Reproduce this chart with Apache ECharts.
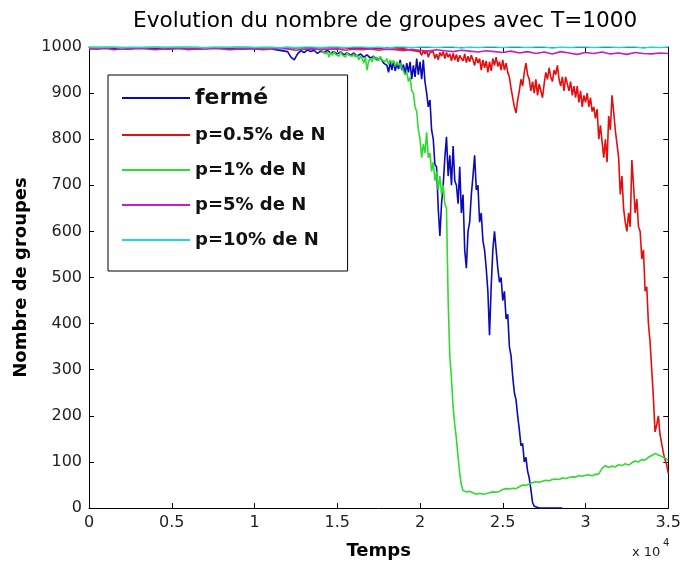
<!DOCTYPE html>
<html>
<head>
<meta charset="utf-8">
<script src="https://cdn.jsdelivr.net/npm/echarts@6/dist/echarts.min.js"></script>
<style>html,body{margin:0;padding:0;background:#fff}#c{width:684px;height:565px}</style>
</head>
<body>
<div id="c"></div>
<script>
// ---- Data ----
const titre = 'Evolution du nombre de groupes avec T=1000';
const nomsSeries = ['fermé', 'p=0.5% de N', 'p=1% de N', 'p=5% de N', 'p=10% de N'];
const ticksX = [0, 5000, 10000, 15000, 20000, 25000, 30000, 35000];
const ticksY = [0, 100, 200, 300, 400, 500, 600, 700, 800, 900, 1000];

// Each series is stored as segments: start time, sampling step, values.
// fermé
const fermeA = [999,998,997,999,996,998,999,997,998,995,997,996];           // t = 0 .. 11000, step 1000
const fermeB = [                                                              // t = 12000 .. 17800, step 200
  990,978,972,985,992,988,994,990,993,986,
  991,988,993,987,990,985,990,983,988,982,
  987,980,985,978,983,976,980,972,977,965
];
const fermeC = [                                                              // t = 18000 .. 27000, step 100
  960,945,968,950,970,948,965,952,972,950,
  962,940,965,945,968,930,960,935,975,940,
  968,930,972,925,900,870,885,820,800,745,
  740,650,590,660,700,760,805,720,765,700,
  785,710,700,660,740,640,680,560,520,600,
  620,680,720,765,690,700,620,640,580,560,
  520,470,375,480,560,600,560,520,490,500,
  450,470,410,420,350,330,285,250,235,200,
  170,135,140,100,110,80,65,40,12,4,
  0
];
const fermeD = [0,0,0,0,0,0,0,0];                                             // t = 27200 .. 28600, step 200

// p=0.5% de N
const p05A = [999,998,999,997,999,998,996,999,998,999,998,997,999,996,998,999,997,998,995,996]; // t = 0 .. 19000, step 1000
const p05B = [                                                                // t = 20000 .. 35000, step 100
  990,982,992,985,993,978,988,984,990,975,
  985,972,988,980,990,975,988,978,985,970,
  986,972,984,968,982,975,970,985,966,980,
  968,982,972,960,978,965,975,950,972,955,
  970,945,968,948,975,960,978,958,968,950,
  972,950,965,945,935,910,890,870,857,885,
  905,930,915,945,965,940,930,905,925,900,
  930,895,920,905,890,920,945,930,955,935,
  925,950,940,960,930,915,935,905,935,920,
  905,925,895,915,890,915,880,905,870,895,
  880,900,870,890,860,870,845,865,800,830,
  830,760,800,750,850,820,895,860,820,790,
  760,680,720,650,620,600,640,610,755,700,
  640,670,610,600,540,560,470,480,400,360,
  300,240,165,180,200,160,140,120,105,95,
  75
];

// p=1% de N
const p1A = [999,1000,999,998,1000,999,1000,998,999,1000,999,998,999,997];  // t = 0 .. 13000, step 1000
const p1B = [                                                                 // t = 14000 .. 22600, step 100
  996,990,994,985,990,978,988,982,990,984,
  988,980,990,983,987,978,988,982,986,980,
  985,978,983,972,980,975,965,978,950,970,
  975,968,980,972,978,970,980,972,976,968,
  975,962,972,965,970,958,968,960,965,955,
  955,940,945,925,935,905,900,870,860,820,
  800,760,790,770,815,760,770,730,750,710,
  730,690,720,680,700,660,650,450,330,280,
  220,180,150,110,75,50,38
];
const p1C = [                                                                 // t = 22800 .. 35000, step 200
  35,36,33,30,32,30,31,33,35,34,
  36,40,42,41,43,42,46,50,49,52,
  55,57,56,58,60,59,62,63,62,65,
  64,66,68,67,70,69,71,72,70,73,
  74,86,92,88,91,89,94,92,96,93,
  98,102,100,105,104,110,114,118,115,112,
  108,104
];

// p=5% de N, t = 0 .. 35000, step 500
const p5A = [
  996,995,997,994,996,995,997,996,994,996,
  995,997,994,996,995,997,996,994,995,997,
  996,994,995,997,996,993,995,996,994,995,
  996,993,995,994,996,993,995,994,992,995,
  993,991,994,992,990,993,991,989,992,990,
  988,991,987,990,986,989,985,990,987,984,
  988,986,989,985,987,984,988,986,985,987,
  986
];

// p=10% de N, t = 0 .. 35000, step 500
const p10A = [
  1000,999,1000,1000,998,1000,999,1000,1000,999,
  1000,1000,999,1000,998,1000,1000,999,1000,1000,
  999,1000,1000,998,1000,999,1000,1000,999,1000,
  1000,999,1000,1000,999,1000,998,1000,1000,999,
  1000,1000,999,1000,1000,998,1000,999,1000,1000,
  999,1000,1000,999,1000,1000,998,1000,999,1000,
  1000,999,1000,1000,999,1000,1000,998,1000,999,
  1000
];

const segments = [
  [[0, 1000, fermeA], [12000, 200, fermeB], [18000, 100, fermeC], [27200, 200, fermeD]],
  [[0, 1000, p05A], [20000, 100, p05B]],
  [[0, 1000, p1A], [14000, 100, p1B], [22800, 200, p1C]],
  [[0, 500, p5A]],
  [[0, 500, p10A]]
];

// ---- Chart ----
const couleurs = ['#0a0ab8', '#e80c0c', '#2edc2e', '#c020c8', '#22d4dc'];
const toPoints = segs => segs.reduce((acc, [t0, pas, vals]) =>
  acc.concat(vals.map((v, i) => [t0 + i * pas, v])), []);
const seriesData = segments.map(toPoints);

const FONT = 'DejaVu Sans';
const chart = echarts.init(document.getElementById('c'), null, {renderer: 'canvas'});

const axisCommon = {
  axisLine: {show: true, onZero: false, lineStyle: {color: '#000', width: 1}},
  axisTick: {show: true, inside: true, length: 5, lineStyle: {color: '#000'}},
  splitLine: {show: false}
};

chart.setOption({
  animation: false,
  backgroundColor: '#fff',
  title: {
    text: titre, left: 128, top: 5,
    textStyle: {fontFamily: FONT, fontSize: 21.6, fontWeight: 'normal', color: '#000'}
  },
  grid: {left: 89, right: 7, top: 47, bottom: 57, containLabel: false},
  legend: {
    orient: 'vertical', left: 108, top: 75,
    padding: [12, 22, 22, 14], itemGap: 17,
    itemWidth: 68, itemHeight: 2, icon: 'rect',
    borderColor: '#000', borderWidth: 1, backgroundColor: '#fff',
    data: nomsSeries,
    formatter: n => n === nomsSeries[0] ? '{f|' + n + '}' : '{p|' + n + '}',
    textStyle: {
      rich: {
        f: {fontFamily: FONT, fontSize: 22, fontWeight: 'bold', color: '#111'},
        p: {fontFamily: FONT, fontSize: 18, fontWeight: 'bold', color: '#111'}
      }
    }
  },
  xAxis: [
    Object.assign({}, axisCommon, {
      type: 'value', min: ticksX[0], max: ticksX[ticksX.length - 1], interval: ticksX[1] - ticksX[0],
      position: 'bottom',
      axisLabel: {formatter: v => String(v / 10000), fontFamily: FONT, fontSize: 16, color: '#222', margin: 7},
      name: 'Temps', nameLocation: 'middle', nameGap: 34,
      nameTextStyle: {fontFamily: FONT, fontSize: 18, fontWeight: 'bold', color: '#000'}
    }),
    Object.assign({}, axisCommon, {
      type: 'value', min: ticksX[0], max: ticksX[ticksX.length - 1], interval: ticksX[1] - ticksX[0],
      position: 'top', axisLabel: {show: false}
    })
  ],
  yAxis: [
    Object.assign({}, axisCommon, {
      type: 'value', min: ticksY[0], max: ticksY[ticksY.length - 1], interval: ticksY[1] - ticksY[0],
      position: 'left',
      axisLabel: {formatter: v => String(v), fontFamily: FONT, fontSize: 16, color: '#222', margin: 7},
      name: 'Nombre de groupes', nameLocation: 'middle', nameGap: 48,
      nameTextStyle: {fontFamily: FONT, fontSize: 18, fontWeight: 'bold', color: '#000'}
    }),
    Object.assign({}, axisCommon, {
      type: 'value', min: ticksY[0], max: ticksY[ticksY.length - 1], interval: ticksY[1] - ticksY[0],
      position: 'right', axisLabel: {show: false}
    })
  ],
  graphic: [
    {type: 'text', left: 632, top: 546, style: {text: 'x 10', fontFamily: FONT, fontSize: 13, fill: '#222'}},
    {type: 'text', left: 663, top: 538, style: {text: '4', fontFamily: FONT, fontSize: 10, fill: '#222'}}
  ],
  series: nomsSeries.map((n, k) => ({
    name: n, type: 'line', data: seriesData[k], showSymbol: false, symbol: 'none',
    xAxisIndex: 0, yAxisIndex: 0,
    color: couleurs[k],
    lineStyle: {color: couleurs[k], width: 1.6},
    clip: true
  }))
});
</script>
</body>
</html>
